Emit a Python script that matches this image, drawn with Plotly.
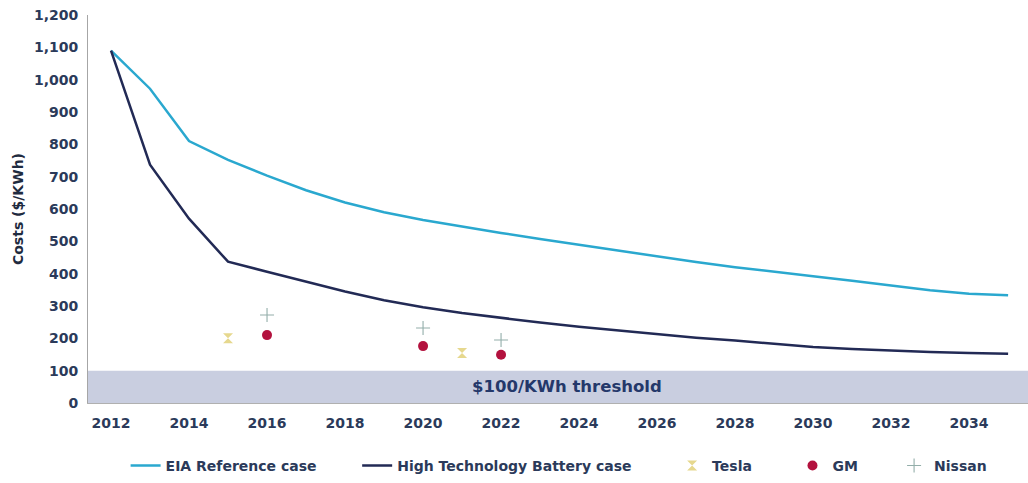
import plotly.graph_objects as go

# Battery pack cost projections ($/kWh)
years = list(range(2012, 2036))
eia_reference = [1090, 972, 810, 752, 703, 658, 620, 590, 566, 545, 526, 507,
                 489, 470, 452, 436, 420, 405, 392, 378, 363, 349, 338, 333]
high_tech_battery = [1090, 737, 570, 437, 406, 375, 345, 318, 296, 278, 263, 249,
                     236, 224, 214, 202, 193, 182, 173, 167, 162, 158, 155, 152]

# Manufacturer cost points
tesla_years = [2015, 2021]
tesla_costs = [200, 155]
gm_years = [2016, 2020, 2022]
gm_costs = [210, 176, 149]
nissan_years = [2016, 2020, 2022]
nissan_costs = [272, 232, 195]

threshold = 100
threshold_label = "$100/KWh threshold"

y_ticks = list(range(0, 1300, 100))
y_tick_labels = [f"{v:,}" for v in y_ticks]
x_ticks = list(range(2012, 2036, 2))
x_tick_labels = [str(v) for v in x_ticks]

TEXT = "#2b3a5a"
FONT = "DejaVu Sans"


def pad(n):
    # non-breaking spaces widen the gap after a legend entry
    return "\u00a0" * n


fig = go.Figure()

# shaded band below the threshold
fig.add_shape(type="rect", xref="paper", yref="y", x0=0, x1=1, y0=0, y1=threshold,
              fillcolor="#c9cee0", line_width=0, layer="below")
fig.add_annotation(x=2023.7, y=threshold / 2, xref="x", yref="y",
                   text=f"<b>{threshold_label}</b>", showarrow=False,
                   font=dict(family=FONT, size=16.5, color="#24386a"))

fig.add_trace(go.Scatter(x=years, y=eia_reference, mode="lines",
                         name="<b>EIA Reference case</b>" + pad(8),
                         line=dict(color="#2aa8cf", width=2.5)))
fig.add_trace(go.Scatter(x=years, y=high_tech_battery, mode="lines",
                         name="<b>High Technology Battery case</b>" + pad(8),
                         line=dict(color="#222a55", width=2.5)))
fig.add_trace(go.Scatter(x=tesla_years, y=tesla_costs, mode="markers",
                         name="<b>Tesla</b>" + pad(8),
                         marker=dict(symbol="hourglass", size=10, color="#e6d88e",
                                     line=dict(width=0))))
fig.add_trace(go.Scatter(x=gm_years, y=gm_costs, mode="markers",
                         name="<b>GM</b>" + pad(7),
                         marker=dict(symbol="circle", size=10, color="#b3123e",
                                     line=dict(width=0))))
fig.add_trace(go.Scatter(x=nissan_years, y=nissan_costs, mode="markers",
                         name="<b>Nissan</b>",
                         marker=dict(symbol="cross-thin", size=10,
                                     line=dict(width=1.1, color="#93aeaa"))))

fig.update_layout(
    width=1028, height=483,
    margin=dict(l=88, r=0, t=15, b=80),
    paper_bgcolor="white", plot_bgcolor="white",
    font=dict(family=FONT, size=14, color=TEXT),
    showlegend=True,
    legend=dict(orientation="h", x=0.04, y=-0.162, xanchor="left", yanchor="middle",
                font=dict(family=FONT, size=14, color=TEXT)),
    xaxis=dict(range=[2011.41, 2035.51], tickvals=x_ticks,
               ticktext=[f"<b>{t}</b>" for t in x_tick_labels],
               showgrid=False, zeroline=False, showline=True, linecolor="#b0b0b0",
               linewidth=1, ticks="", ticklabelstandoff=7,
               tickfont=dict(family=FONT, size=14, color=TEXT)),
    yaxis=dict(range=[0, 1200], tickvals=y_ticks,
               ticktext=[f"<b>{t}</b>" for t in y_tick_labels],
               showgrid=False, zeroline=False, showline=True, linecolor="#a6a6a6",
               linewidth=1, ticks="", ticklabelstandoff=6,
               tickfont=dict(family=FONT, size=14, color=TEXT),
               title=dict(text="<b>Costs ($/KWh)</b>", standoff=7,
                          font=dict(family=FONT, size=14, color="#1f2b40"))),
)

fig.write_html("out.html")
